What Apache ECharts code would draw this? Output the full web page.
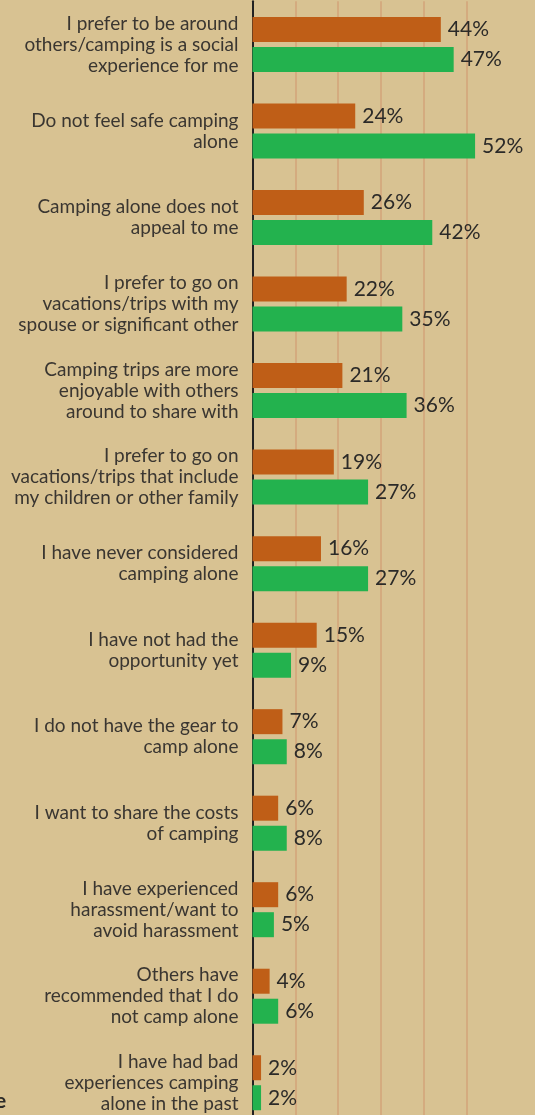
<!DOCTYPE html>
<html>
<head>
<meta charset="utf-8">
<script src="https://cdn.jsdelivr.net/npm/echarts@6/dist/echarts.min.js"></script>
<style>
  html, body { margin: 0; padding: 0; background: #d8c292; overflow: hidden; }
  /* the plot runs a little past the bottom of the window */
  #chart { width: 535px; height: 1126px; }
</style>
</head>
<body>
<div id="chart"></div>
<script>
// Reasons for not camping alone, two respondent groups
const categories = [
  'I prefer to be around\nothers/camping is a social\nexperience for me',
  'Do not feel safe camping\nalone',
  'Camping alone does not\nappeal to me',
  'I prefer to go on\nvacations/trips with my\nspouse or significant other',
  'Camping trips are more\nenjoyable with others\naround to share with',
  'I prefer to go on\nvacations/trips that include\nmy children or other family',
  'I have never considered\ncamping alone',
  'I have not had the\nopportunity yet',
  'I do not have the gear to\ncamp alone',
  'I want to share the costs\nof camping',
  'I have experienced\nharassment/want to\navoid harassment',
  'Others have\nrecommended that I do\nnot camp alone',
  'I have had bad\nexperiences camping\nalone in the past'
];
const orangeValues = [44, 24, 26, 22, 21, 19, 16, 15, 7, 6, 6, 4, 2];
const greenValues  = [47, 52, 42, 35, 36, 27, 27, 9, 8, 8, 5, 6, 2];
const gridValues   = [10, 20, 30, 40, 50];

const chart = echarts.init(document.getElementById('chart'), null, { renderer: 'canvas' });

const valueLabel = {
  show: true,
  position: 'right',
  distance: 7,
  formatter: '{c}%',
  fontFamily: 'Lato',
  fontSize: 21,
  color: '#2b2a28'
};

chart.setOption({
  backgroundColor: '#d8c292',
  animation: false,
  grid: { left: 252.5, right: 0, top: 1.25, bottom: 0, containLabel: false },
  xAxis: {
    type: 'value',
    min: 0,
    max: 66,
    axisLine: { show: false },
    axisTick: { show: false },
    axisLabel: { show: false },
    splitLine: { show: false }
  },
  yAxis: {
    type: 'category',
    inverse: true,
    data: categories,
    axisLine: { show: true, lineStyle: { color: '#222222', width: 2 } },
    axisTick: { show: false },
    axisLabel: {
      margin: 14,
      fontFamily: 'Lato',
      fontSize: 19,
      lineHeight: 21,
      color: '#3a3631',
      align: 'right'
    }
  },
  series: [
    {
      // vertical guide lines every 10%, kept behind the bars
      type: 'line',
      data: [],
      z: 1,
      silent: true,
      markLine: {
        z: 1,
        silent: true,
        symbol: 'none',
        label: { show: false },
        lineStyle: { color: '#d4ab7f', width: 2, type: 'solid' },
        data: gridValues.map(v => ({ xAxis: v }))
      }
    },
    {
      type: 'bar',
      data: orangeValues,
      z: 3,
      barWidth: 25,
      barGap: '20%',
      itemStyle: { color: '#bf5e17' },
      label: valueLabel
    },
    {
      type: 'bar',
      data: greenValues,
      z: 3,
      barWidth: 25,
      barGap: '20%',
      itemStyle: { color: '#23b24e' },
      label: valueLabel
    }
  ],
  graphic: [
    {
      type: 'text',
      left: -5,
      top: 1091,
      style: { text: 'e', fontFamily: 'Lato', fontSize: 21, fontWeight: 'bold', fill: '#2b2a28' }
    }
  ]
});
</script>
</body>
</html>
